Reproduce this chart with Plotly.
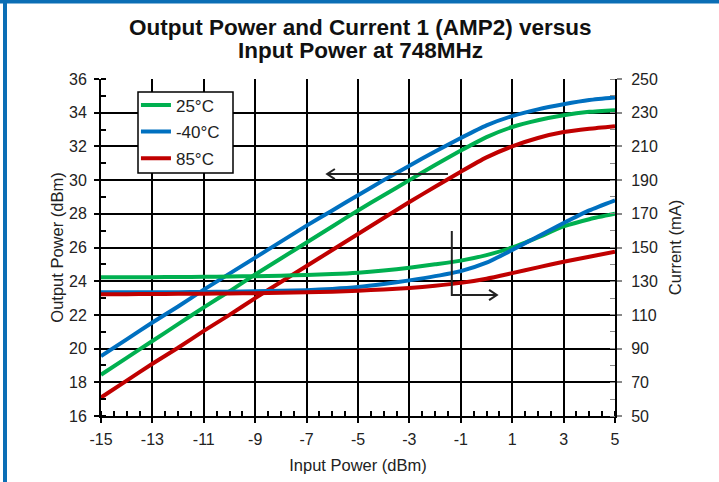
import plotly.graph_objects as go

x_dbm = list(range(-15, 6))

temps = ["25°C", "-40°C", "85°C"]
colors = ["#00B050", "#0070C0", "#C00000"]

pout_25 = [18.45, 19.45, 20.45, 21.45, 22.45, 23.4, 24.4, 25.35, 26.3, 27.25, 28.2,
           29.1, 30.0, 30.9, 31.75, 32.55, 33.15, 33.55, 33.85, 34.05, 34.15]
pout_m40 = [19.55, 20.55, 21.55, 22.5, 23.5, 24.45, 25.4, 26.35, 27.3, 28.2, 29.1,
            30.0, 30.85, 31.7, 32.5, 33.25, 33.8, 34.2, 34.5, 34.75, 34.9]
pout_85 = [17.1, 18.1, 19.1, 20.05, 21.05, 22.0, 23.0, 23.95, 24.9, 25.85, 26.8,
           27.75, 28.7, 29.6, 30.5, 31.35, 32.0, 32.5, 32.85, 33.05, 33.2]

icc_25 = [132.3, 132.3, 132.4, 132.5, 132.6, 132.8, 133.0, 133.3, 133.7, 134.2, 135.0,
          136.3, 138.0, 140.0, 142.2, 145.5, 150.0, 156.0, 162.5, 166.8, 170.0]
icc_m40 = [123.5, 123.5, 123.5, 123.5, 123.6, 123.8, 124.0, 124.3, 124.7, 125.4, 126.5,
           128.3, 130.5, 133.0, 136.0, 141.0, 148.5, 156.5, 164.5, 172.0, 178.0]
icc_85 = [122.3, 122.3, 122.4, 122.5, 122.6, 122.7, 122.9, 123.1, 123.4, 123.8, 124.4,
          125.1, 126.0, 127.3, 129.0, 131.5, 134.8, 138.2, 141.5, 144.5, 147.5]

pout = [pout_25, pout_m40, pout_85]
icc = [icc_25, icc_m40, icc_85]

x_ticks = list(range(-15, 6, 2))
x_ticktext = [str(v) for v in x_ticks]
y_ticks = list(range(16, 37, 2))
y2_ticks = list(range(50, 251, 20))

title_lines = ["Output Power and Current 1 (AMP2) versus", "Input Power at 748MHz"]

FONT = "Liberation Sans, Arial, sans-serif"

fig = go.Figure()
for name, col, p, c in zip(temps, colors, pout, icc):
    fig.add_trace(go.Scatter(x=x_dbm, y=p, mode="lines", name=name,
                             legendgroup=name, showlegend=True,
                             line=dict(color=col, width=4, shape="spline", smoothing=0.6)))
    fig.add_trace(go.Scatter(x=x_dbm, y=c, mode="lines", name=name,
                             legendgroup=name, showlegend=False, yaxis="y2",
                             line=dict(color=col, width=4, shape="spline", smoothing=0.6)))

ax_common = dict(showline=True, linecolor="black", linewidth=2,
                 showgrid=True, gridcolor="black", gridwidth=1.6,
                 ticks="outside", ticklen=5, tickwidth=1.5, tickcolor="black",
                 zeroline=False, automargin=False,
                 tickfont=dict(family=FONT, size=16, color="#222"),
                 title_font=dict(family=FONT, size=16.5, color="#222"))

fig.update_layout(
    width=719, height=482,
    margin=dict(l=101, r=104, t=79, b=66, autoexpand=False),
    paper_bgcolor="white", plot_bgcolor="white",
    font=dict(family=FONT, color="#222"),
    xaxis=dict(range=[-15, 5], tickvals=x_ticks, ticktext=x_ticktext,
               ticklabelstandoff=3,
               title=dict(text="Input Power (dBm)", standoff=12),
               minor=dict(dtick=0.5, tick0=-15, ticks="inside", ticklen=5,
                          tickwidth=1.5, tickcolor="black", showgrid=False),
               **ax_common),
    yaxis=dict(range=[16, 36], tickvals=y_ticks, ticklabelstandoff=4,
               title=dict(text="Output Power (dBm)", standoff=1),
               minor=dict(dtick=1, tick0=16, ticks="inside", ticklen=5,
                          tickwidth=1.5, tickcolor="black", showgrid=False),
               **ax_common),
    yaxis2=dict(range=[50, 250], tickvals=y2_ticks, overlaying="y", side="right",
                showline=True, linecolor="black", linewidth=2, showgrid=False,
                ticks="outside", ticklen=5, tickwidth=1.5, tickcolor="#888",
                zeroline=False, automargin=False, ticklabelstandoff=6,
                minor=dict(dtick=10, tick0=50, ticks="inside", ticklen=5,
                           tickwidth=1.2, tickcolor="#888", showgrid=False),
                tickfont=dict(family=FONT, size=16, color="#222"),
                title=dict(text="Current (mA)", standoff=12,
                           font=dict(family=FONT, size=16.5, color="#222"))),
    legend=dict(x=0.068, y=0.975, xanchor="left", yanchor="top",
                bgcolor="rgba(0,0,0,0)", borderwidth=0,
                font=dict(family=FONT, size=17, color="#222"),
                tracegroupgap=1.5, itemwidth=30),
    showlegend=True,
)

# Title (two centred lines)
for txt, ypix in zip(title_lines, [27, 50]):
    fig.add_annotation(text="<b>" + txt + "</b>", xref="paper", yref="paper",
                       x=(360 - 101) / 514, y=(416 - ypix) / 337,
                       xanchor="center", yanchor="middle", showarrow=False,
                       font=dict(family=FONT, size=22.5, color="#111"))

# Legend box
fig.add_shape(type="rect", xref="paper", yref="paper", layer="above",
              x0=(138 - 101) / 514, x1=(233 - 101) / 514,
              y0=(416 - 173) / 337, y1=(416 - 92) / 337,
              fillcolor="white", line=dict(color="black", width=1.5))

# Arrows (left: power axis, right: current axis)
arrow_style = dict(type="path", xref="x", yref="y", line=dict(color="#222", width=2))
fig.add_shape(path="M -1.5 30.36 L -6.2 30.36 M -5.9 30.66 L -6.2 30.36 L -5.9 30.06", **arrow_style)
fig.add_shape(path="M -1.35 26.98 L -1.35 23.18 L 0.4 23.18 M 0.1 23.48 L 0.4 23.18 L 0.1 22.88", **arrow_style)

# Blue frame (top and left edges)
frame_col = "#0B6EB5"
fig.add_shape(type="rect", xref="paper", yref="paper", layer="above",
              x0=-101 / 514, x1=(719 - 101) / 514, y0=(416 - 3.5) / 337, y1=(416 + 1) / 337,
              fillcolor=frame_col, line=dict(width=0))
fig.add_shape(type="rect", xref="paper", yref="paper", layer="above",
              x0=(3 - 101) / 514, x1=(7 - 101) / 514, y0=(416 - 483) / 337, y1=(416 + 1) / 337,
              fillcolor=frame_col, line=dict(width=0))

fig.write_html("out.html", config={"displayModeBar": False},
               post_script="document.body.style.margin='0';")
